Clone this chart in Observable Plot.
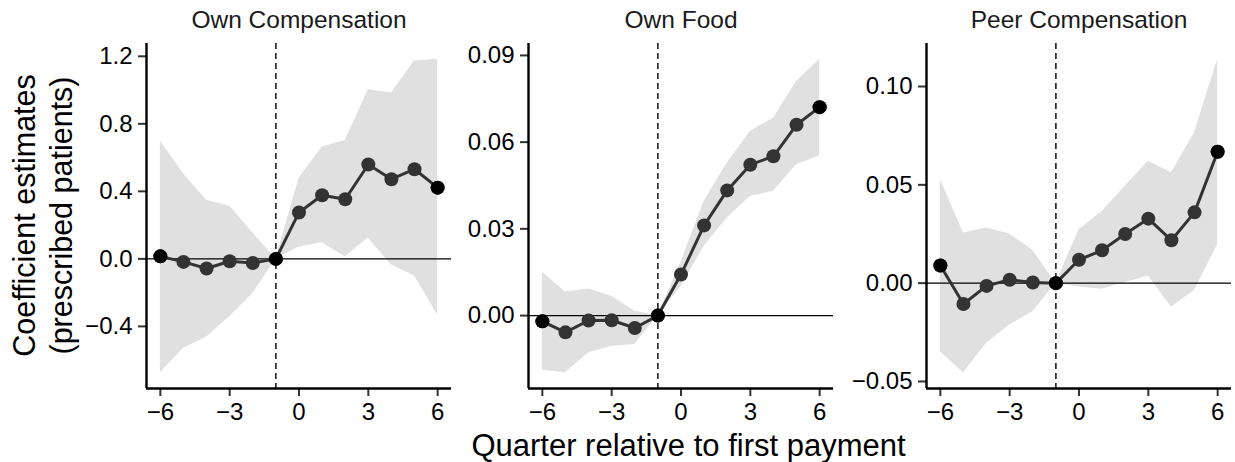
<!DOCTYPE html>
<html>
<head>
<meta charset="utf-8">
<script src="https://cdn.jsdelivr.net/npm/d3@7"></script>
<script src="https://cdn.jsdelivr.net/npm/@observablehq/plot@0.6"></script>
<style>
  body { margin: 0; background: #fff; }
  #chart { position: relative; width: 1235px; height: 462px; overflow: hidden; font-family: "Liberation Sans", Arial, sans-serif; }
  #chart svg { position: absolute; top: 0; }
</style>
</head>
<body>
<div id="chart"></div>
<script>
// ---------- data ----------
const quarters = [-6, -5, -4, -3, -2, -1, 0, 1, 2, 3, 4, 5, 6];
const panelTitles = ["Own Compensation", "Own Food", "Peer Compensation"];

const ownCompEst = [0.015, -0.018, -0.057, -0.014, -0.024, 0, 0.275, 0.377, 0.353, 0.559, 0.472, 0.531, 0.422];
const ownCompLo  = [-0.675, -0.530, -0.465, -0.343, -0.205, 0, 0.071, 0.095, 0.012, 0.124, -0.037, -0.102, -0.333];
const ownCompHi  = [0.698, 0.505, 0.347, 0.312, 0.155, 0, 0.476, 0.663, 0.702, 1.002, 0.982, 1.172, 1.183];

const ownFoodEst = [-0.0020, -0.0058, -0.0017, -0.0016, -0.0043, 0, 0.0142, 0.0312, 0.0433, 0.0522, 0.0551, 0.0660, 0.0721];
const ownFoodLo  = [-0.0189, -0.0198, -0.0129, -0.0106, -0.0100, 0, 0.0100, 0.0240, 0.0338, 0.0412, 0.0430, 0.0522, 0.0553];
const ownFoodHi  = [0.0150, 0.0082, 0.0092, 0.0067, 0.0015, 0, 0.0185, 0.0395, 0.0528, 0.0637, 0.0683, 0.0810, 0.0887];

const peerCompEst = [0.0090, -0.0106, -0.0014, 0.0017, 0.0003, 0, 0.0119, 0.0167, 0.0250, 0.0328, 0.0218, 0.0360, 0.0668];
const peerCompLo  = [-0.0349, -0.0456, -0.0306, -0.0213, -0.0145, 0, -0.0020, -0.0031, 0.0003, 0.0037, -0.0122, -0.0038, 0.0195];
const peerCompHi  = [0.0527, 0.0255, 0.0281, 0.0250, 0.0166, 0, 0.0272, 0.0365, 0.0493, 0.0620, 0.0561, 0.0765, 0.1139];

const xTicks = [-6, -3, 0, 3, 6];
const ownCompTicks = [-0.4, 0.0, 0.4, 0.8, 1.2];
const ownFoodTicks = [0.00, 0.03, 0.06, 0.09];
const peerCompTicks = [-0.05, 0.00, 0.05, 0.10];

const referenceQuarter = -1;
const zeroLine = 0;
const highlightQuarters = [-6, -1, 6];

const xTitle = "Quarter relative to first payment";
const yTitleLines = ["Coefficient estimates", "(prescribed patients)"];

// ---------- helpers ----------
const FONT = "'Liberation Sans', Arial, Helvetica, sans-serif";
const fmt = (v, digits) => v.toFixed(digits).replace("-", "\u2212");

function makePanel(title, est, lo, hi, ticks, digits, layout) {
  const rows = quarters.map((q, i) => ({q, est: est[i], lo: lo[i], hi: hi[i]}));
  const xMin = d3.min(quarters), xMax = d3.max(quarters);
  const xPad = 0.05 * (xMax - xMin);
  const xDomain = [xMin - xPad, xMax + xPad];
  const yMin = d3.min([...lo, ...est]), yMax = d3.max([...hi, ...est]);
  const yPad = 0.05 * (yMax - yMin);
  const yDomain = [yMin - yPad, yMax + yPad];

  const svg = Plot.plot({
    width: layout.width,
    height: 462,
    marginLeft: layout.marginLeft,
    marginRight: layout.marginRight,
    marginTop: 43,
    marginBottom: 74,
    style: {fontFamily: FONT, fontSize: "24px", background: "transparent", color: "#000", overflow: "visible"},
    x: {domain: xDomain},
    y: {domain: yDomain},
    marks: [
      Plot.areaY(rows, {x: "q", y1: "lo", y2: "hi", fill: "#e0e0e0"}),
      Plot.ruleY([zeroLine], {stroke: "#000", strokeWidth: 1.4}),
      Plot.ruleX([referenceQuarter], {stroke: "#000", strokeWidth: 1.4, strokeDasharray: "6,4"}),
      Plot.lineY(rows, {x: "q", y: "est", stroke: "#333", strokeWidth: 3}),
      Plot.dot(rows, {x: "q", y: "est", r: 7, fill: "#333", stroke: "none"}),
      Plot.dot(rows.filter(d => highlightQuarters.includes(d.q)), {x: "q", y: "est", r: 7, fill: "#000", stroke: "none"}),
      Plot.axisX({ticks: xTicks, tickSize: 8, tickPadding: 6, tickFormat: d => fmt(d, 0), stroke: "#333", strokeWidth: 2, fill: "#000", fontSize: 24, label: null}),
      Plot.axisY({ticks, tickSize: 8, tickPadding: 6, tickFormat: d => fmt(d, digits), stroke: "#333", strokeWidth: 2, fill: "#000", fontSize: 24, label: null}),
      Plot.ruleX([xDomain[0]], {stroke: "#000", strokeWidth: 2.4}),
      Plot.ruleY([yDomain[0]], {stroke: "#000", strokeWidth: 2.4}),
      Plot.text([title], {text: d => d, frameAnchor: "top", dy: -23, lineAnchor: "middle", fontSize: 24.5, fill: "#1a1a1a"})
    ]
  });
  svg.style.left = layout.left + "px";
  return svg;
}

const chart = document.getElementById("chart");
chart.appendChild(makePanel(panelTitles[0], ownCompEst, ownCompLo, ownCompHi, ownCompTicks, 1,
  {left: 80, width: 380, marginLeft: 66, marginRight: 9}));
chart.appendChild(makePanel(panelTitles[1], ownFoodEst, ownFoodLo, ownFoodHi, ownFoodTicks, 2,
  {left: 460, width: 382, marginLeft: 68, marginRight: 9}));
chart.appendChild(makePanel(panelTitles[2], peerCompEst, peerCompLo, peerCompHi, peerCompTicks, 2,
  {left: 842, width: 393, marginLeft: 84, marginRight: 4}));

// ---------- shared axis titles ----------
const overlay = d3.select(chart).append("svg")
  .attr("width", 1235).attr("height", 462)
  .style("left", "0px").style("pointer-events", "none")
  .style("font-family", FONT);

overlay.append("text")
  .attr("x", 688.5).attr("y", 456)
  .attr("text-anchor", "middle")
  .attr("font-size", 31)
  .attr("fill", "#000")
  .text(xTitle);

yTitleLines.forEach((line, i) => {
  overlay.append("text")
    .attr("transform", `translate(${35 + i * 37},215.5) rotate(-90)`)
    .attr("text-anchor", "middle")
    .attr("font-size", 30.5)
    .attr("fill", "#000")
    .text(line);
});
</script>
</body>
</html>
